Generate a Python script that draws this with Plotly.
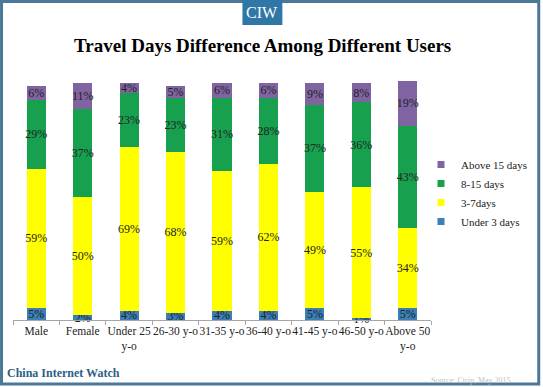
import plotly.graph_objects as go

# ---- data ----
categories = ["Male", "Female", "Under 25<br>y-o", "26-30 y-o", "31-35 y-o",
              "36-40 y-o", "41-45 y-o", "46-50 y-o", "Above 50<br>y-o"]
under_3_days = [5, 2, 4, 3, 4, 4, 5, 1, 5]
days_3_7 = [59, 50, 69, 68, 59, 62, 49, 55, 34]
days_8_15 = [29, 37, 23, 23, 31, 28, 37, 36, 43]
above_15_days = [6, 11, 4, 5, 6, 6, 9, 8, 19]
series_names = ["Under 3 days", "3-7days", "8-15 days", "Above 15 days"]
series_values = [under_3_days, days_3_7, days_8_15, above_15_days]
colors = ["#3a7fb6", "#ffff00", "#17a04e", "#8064a2"]

W, H = 543, 387
L, R, T, B = 13, 111, 81, 67
PW, PH = W - L - R, H - T - B


def px_x(px):
    return (px - L) / PW


def px_y(py):
    return (H - B - py) / PH


SERIF = "Liberation Serif, Times New Roman, serif"

fig = go.Figure()
for name, vals, col in zip(series_names, series_values, colors):
    fig.add_trace(go.Bar(
        x=categories, y=vals, name=name, showlegend=False,
        marker=dict(color=col, line=dict(width=0)),
        text=[f"{v}%" for v in vals],
        textposition="inside", insidetextanchor="middle", textangle=0,
        textfont=dict(family=SERIF, size=12, color="#222222"),
        cliponaxis=False, hoverinfo="skip",
    ))
# legend entries with small square keys
for name, col in zip(series_names, colors):
    fig.add_trace(go.Scatter(
        x=[None], y=[None], mode="markers", name=name,
        marker=dict(symbol="square", size=7, color=col),
        hoverinfo="skip",
    ))

fig.update_layout(
    width=W, height=H,
    margin=dict(l=L, r=R, t=T, b=B, pad=0),
    barmode="stack", bargap=0.59,
    paper_bgcolor="white", plot_bgcolor="white",
    uniformtext=dict(minsize=12, mode="show"),
    showlegend=True,
    legend=dict(
        x=px_x(421), y=px_y(150), xanchor="left", yanchor="top",
        traceorder="reversed", bgcolor="rgba(0,0,0,0)",
        font=dict(family=SERIF, size=11, color="#222222"),
        itemwidth=30,
    ),
    xaxis=dict(
        type="category", tickangle=0, showgrid=False,
        showline=True, linecolor="#a6a6a6", linewidth=1,
        ticks="outside", tickson="boundaries", ticklen=4, tickcolor="#a6a6a6",
        tickfont=dict(family=SERIF, size=11.5, color="#222222"),
    ),
    yaxis=dict(range=[0, 101], visible=False, showgrid=False, zeroline=False),
)

# frame and badge
fig.add_shape(type="rect", xref="paper", yref="paper",
              x0=px_x(1.5), x1=px_x(540), y0=px_y(1.5), y1=px_y(384),
              line=dict(color="#4b7898", width=3), fillcolor="rgba(0,0,0,0)", layer="above")
fig.add_shape(type="rect", xref="paper", yref="paper",
              x0=px_x(243), x1=px_x(283), y0=px_y(0), y1=px_y(25),
              line=dict(width=0), fillcolor="#2f77a6", layer="above")

fig.add_annotation(text="CIW", xref="paper", yref="paper", x=px_x(263), y=px_y(13),
                   xanchor="center", yanchor="middle", showarrow=False,
                   font=dict(family=SERIF, size=16, color="white"))
fig.add_annotation(text="<b>Travel Days Difference Among Different Users</b>",
                   xref="paper", yref="paper", x=px_x(263), y=px_y(45),
                   xanchor="center", yanchor="middle", showarrow=False,
                   font=dict(family=SERIF, size=19, color="black"))
fig.add_annotation(text="<b>China Internet Watch</b>", xref="paper", yref="paper",
                   x=px_x(5), y=px_y(373), xanchor="left", yanchor="middle", showarrow=False,
                   font=dict(family=SERIF, size=12, color="#2d5f86"))
fig.add_annotation(text="Source: Ctrip, May 2015", xref="paper", yref="paper",
                   x=px_x(514), y=px_y(380), xanchor="right", yanchor="middle", showarrow=False,
                   font=dict(family=SERIF, size=8, color="#c0c0c0"))

fig.write_html("out.html",
               config={"displayModeBar": False},
               post_script="document.body.style.margin='0';document.body.style.overflow='hidden';")
